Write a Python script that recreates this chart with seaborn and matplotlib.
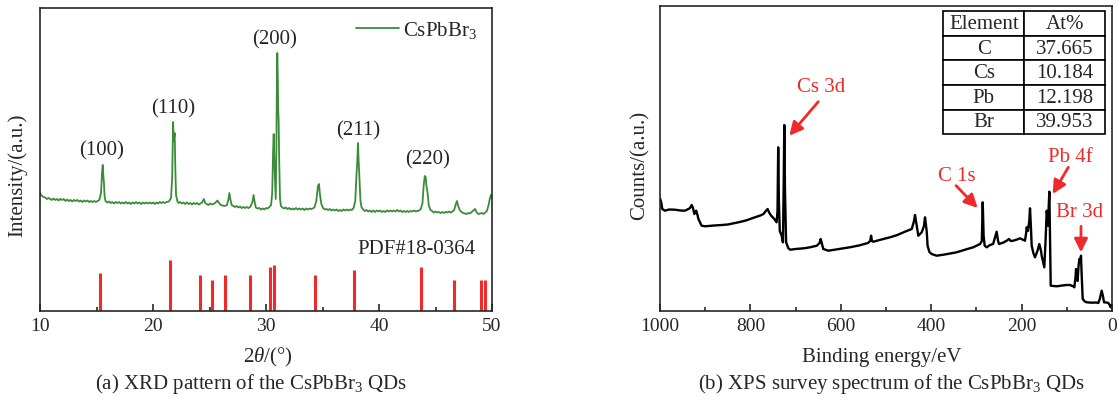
import numpy as np
import pandas as pd
import matplotlib
matplotlib.use("Agg")
import matplotlib.pyplot as plt
import seaborn as sns

# ---------------- XRD data (2theta, intensity a.u.) ----------------
xrd_2theta = [
    10.00, 10.10, 10.20, 10.30, 10.45, 10.60, 10.75, 10.90, 11.05, 11.20, 11.35, 11.50, 11.65, 11.80, 11.95,
    12.10, 12.25, 12.40, 12.55, 12.70, 12.85, 13.00, 13.15, 13.30, 13.45, 13.60, 13.75, 13.90, 14.05, 14.20,
    14.35, 14.50, 14.65, 14.80, 14.95, 15.10, 15.25, 15.40, 15.50, 15.55, 15.60, 15.66, 15.72, 15.80, 15.95,
    16.10, 16.25, 16.40, 16.55, 16.70, 16.85, 17.00, 17.15, 17.30, 17.45, 17.60, 17.75, 17.90, 18.05, 18.20,
    18.35, 18.50, 18.65, 18.80, 18.95, 19.10, 19.25, 19.40, 19.55, 19.70, 19.85, 20.00, 20.15, 20.30, 20.45,
    20.60, 20.75, 20.90, 21.05, 21.20, 21.40, 21.60, 21.70, 21.78, 21.84, 21.92, 21.98, 22.04, 22.15, 22.25,
    22.40, 22.55, 22.70, 22.85, 23.00, 23.15, 23.30, 23.45, 23.60, 23.75, 23.90, 24.05, 24.20, 24.35, 24.50,
    24.62, 24.75, 24.90, 25.05, 25.20, 25.35, 25.50, 25.70, 25.85, 26.00, 26.15, 26.35, 26.55, 26.68, 26.76,
    26.84, 26.96, 27.10, 27.25, 27.40, 27.55, 27.70, 27.85, 28.00, 28.15, 28.30, 28.45, 28.60, 28.80, 28.90,
    28.98, 29.10, 29.25, 29.40, 29.55, 29.70, 29.85, 30.00, 30.15, 30.30, 30.45, 30.55, 30.63, 30.68, 30.74,
    30.80, 30.86, 30.92, 30.97, 31.00, 31.04, 31.08, 31.12, 31.17, 31.24, 31.32, 31.45, 31.60, 31.75, 31.90,
    32.05, 32.20, 32.35, 32.50, 32.65, 32.80, 32.95, 33.10, 33.25, 33.40, 33.55, 33.70, 33.85, 34.00, 34.15,
    34.30, 34.45, 34.60, 34.69, 34.78, 34.90, 35.05, 35.20, 35.35, 35.50, 35.65, 35.80, 35.95, 36.10, 36.25,
    36.40, 36.55, 36.70, 36.85, 37.00, 37.15, 37.30, 37.45, 37.60, 37.75, 37.90, 38.00, 38.08, 38.14, 38.20,
    38.28, 38.36, 38.45, 38.60, 38.75, 38.90, 39.05, 39.20, 39.35, 39.50, 39.65, 39.80, 39.95, 40.10, 40.25,
    40.40, 40.55, 40.70, 40.85, 41.00, 41.15, 41.30, 41.45, 41.60, 41.75, 41.90, 42.05, 42.20, 42.35, 42.50,
    42.65, 42.80, 42.95, 43.10, 43.25, 43.40, 43.55, 43.70, 43.85, 43.95, 44.05, 44.13, 44.20, 44.30, 44.40,
    44.55, 44.70, 44.85, 45.00, 45.15, 45.30, 45.45, 45.60, 45.75, 45.90, 46.05, 46.20, 46.35, 46.50, 46.65,
    46.80, 46.90, 47.00, 47.15, 47.30, 47.45, 47.60, 47.75, 47.90, 48.05, 48.20, 48.35, 48.50, 48.65, 48.80,
    48.95, 49.10, 49.25, 49.40, 49.55, 49.70, 49.80, 49.90, 50.00]
xrd_intensity = [
    118, 116, 115, 114, 113.5, 112, 113, 112, 111, 112.5, 111, 112, 110.5, 112, 111,
    112, 110, 111.5, 110, 111, 109.5, 111, 110, 111, 109.5, 110.5, 109, 110.5, 109.5, 110.5,
    109, 110, 109, 110, 109, 110, 111, 118, 140, 146, 136, 128, 114, 110, 108.5,
    109.5, 108, 109, 107.5, 109, 108, 109, 107.5, 108.5, 107.5, 109, 107.5, 108.5, 107, 108.5,
    107.5, 109, 107.5, 108.5, 107, 108.5, 107.5, 108.5, 107.5, 108.5, 107.5, 108.5, 107, 108.5, 107.5,
    109, 108, 109, 108, 109, 109.5, 113, 135, 189, 170, 178, 140, 116, 110, 108,
    109, 107.5, 108.5, 107, 108.5, 107, 108, 106.5, 108, 107, 108, 106.5, 107.5, 108.5, 112,
    108, 107, 106, 107.5, 106.5, 107, 108, 110.5, 108, 106, 105.5, 105, 106, 112, 118,
    112, 106, 105, 104, 105, 103.5, 104.5, 103, 104, 103, 104, 103, 104, 109, 116,
    110, 103.5, 102.5, 103, 101.5, 102.5, 101.5, 103, 102.5, 104, 106, 118, 160, 177, 150,
    130, 112, 160, 240, 258, 235, 202, 190, 150, 112, 105, 103.5, 102.5, 103.5, 102,
    103, 101.5, 102.5, 101.5, 103, 101.5, 102.5, 101.5, 102.5, 101, 102.5, 101.5, 102.5, 102, 102.5,
    104, 110, 125, 127, 116, 107, 103, 101.5, 102, 101, 102, 100.5, 101.5, 100.5, 101.5,
    100, 101, 100, 101.5, 100.5, 101.5, 100.5, 101.5, 101, 103, 110, 135, 150, 168, 150,
    130, 110, 104, 101.5, 100, 101, 99.5, 100.5, 99, 100.5, 99, 100.5, 99.5, 100.5, 99,
    100, 99, 100.5, 99.5, 100.5, 99.5, 100.5, 99.5, 101, 99.5, 100.5, 99, 100, 99, 100,
    99, 100, 99.5, 100.5, 99.5, 100, 100.5, 102, 108, 125, 135, 134, 125, 118, 106,
    101, 100, 98.5, 99.5, 98.5, 99, 98, 99, 98, 99, 98.5, 99.5, 98.5, 99.5, 101,
    107, 110, 105, 101, 99, 98, 97.5, 97, 98, 97.5, 99, 100.5, 102, 98.5, 97,
    97.5, 98, 97, 98.5, 100, 106, 112, 116, 113]

# reference pattern PDF#18-0364
pdf_2theta = [15.31, 21.53, 24.19, 25.19, 26.34, 28.60, 30.38, 30.74, 34.31, 37.76, 43.69, 46.61, 49.00, 49.38]
pdf_height = [38, 51, 36, 31, 36, 36, 43.7, 46, 36, 41, 43.7, 31, 31, 31]

peak_labels = ["(100)", "(110)", "(200)", "(211)", "(220)"]
peak_label_x = [15.47, 21.80, 30.77, 38.17, 44.32]
peak_label_y = [161, 203, 272, 181, 152]

# ---------------- XPS data (binding energy eV, counts a.u.) ----------------
xps_energy = [
    1000, 997, 995, 989, 980, 967, 955, 945, 934, 930, 927, 924, 920, 917, 915, 908, 900, 880, 863, 850,
    840, 826.6, 810, 790, 778, 771, 766, 762, 758, 754, 747, 742, 740, 738.5, 737, 735, 731, 728, 726.5, 725,
    723.5, 721, 716, 712, 700, 680, 668, 653, 647, 644.5, 641, 638.7, 627.6, 610, 580, 560, 540, 535, 533, 531,
    528, 510, 491, 475, 458, 443, 438, 435.8, 432, 428.5, 421, 416, 413.7, 410, 408, 404, 399, 388, 370, 344,
    320, 307, 292, 288, 286, 284, 281.7, 277, 270, 263, 258, 255.2, 252, 250, 240, 233, 228, 224, 218.4, 210,
    203.5, 196, 192.5, 190, 188.8, 186, 183, 181.4, 179, 177.7, 174, 170.4, 165, 160.8, 157, 155.6, 152, 149.8, 147, 144.5,
    143, 141.6, 140, 138.6, 137, 135.6, 130, 122.3, 110, 100, 92.9, 85, 83.3, 80.5, 79.6, 78, 76.1, 74, 72.3, 70,
    68.6, 67, 64.8, 60, 56, 45, 35, 30.3, 27, 22.9, 20, 17.7, 12, 8.2, 5, 2.9, 1, 0]
xps_counts = [
    112.7, 108, 102, 100.3, 101.5, 101.3, 100.5, 100.3, 102.7, 106, 103, 97, 100.3, 96, 92, 85.3, 84.7, 85.5, 86, 86.5,
    87.5, 88.7, 90.5, 93.7, 95.5, 97, 100, 102, 98, 95.3, 92, 88.7, 100, 163.7, 110, 80, 75.3, 68.7, 120, 186,
    120, 68.7, 62.7, 61.3, 62, 62.8, 63.7, 65.3, 68, 72, 66, 62, 60.3, 61.5, 63.7, 65.5, 68, 70, 75.3, 70,
    69.3, 71.5, 73.7, 76, 79.3, 82, 90, 96, 85, 75.3, 78.7, 85, 93.7, 80, 65.3, 59, 57, 55.3, 56.5, 58.7,
    62, 63.7, 67, 70, 108.7, 75, 65.3, 63.7, 66, 67, 75, 79.3, 70, 67, 68.5, 70.3, 72, 70, 70.3, 71.5,
    72.7, 71, 70.3, 78, 83.7, 80, 90, 102.7, 80, 65.3, 58, 53.7, 60, 67, 60, 55.3, 48, 43.7, 70, 100.3,
    95, 85.3, 105, 119.3, 70, 25.3, 25, 24.7, 25.5, 26, 26, 24.5, 23.7, 35, 42, 38, 30, 45, 52, 50,
    55.3, 35, 12, 9.5, 8.7, 8.3, 8.5, 8, 12, 20.3, 15, 8.7, 8.5, 8, 6, 3.7, 6, 5]

table_header = ["Element", "At%"]
table_elements = ["C", "Cs", "Pb", "Br"]
table_at = ["37.665", "10.184", "12.198", "39.953"]

xps_labels = ["Cs 3d", "C 1s", "Pb 4f", "Br 3d"]
xps_label_x = [644.5, 342.5, 92.2, 70.8]
xps_label_y = [224, 135.8, 154.8, 99.2]
xps_arrow_tail_x = [649.8, 345, 96.7, 68.6]
xps_arrow_tail_y = [209.3, 125.3, 143.7, 84.7]
xps_arrow_head_x = [714, 297.2, 131.2, 68.6]
xps_arrow_head_y = [175.3, 103, 117, 58.7]

# ---------------- style ----------------
sns.set_style("ticks")
plt.rcParams["font.family"] = ["Liberation Serif", "DejaVu Serif"]
plt.rcParams["mathtext.fontset"] = "custom"
plt.rcParams["mathtext.rm"] = "Liberation Serif"
plt.rcParams["mathtext.it"] = "Liberation Serif:italic"
plt.rcParams["axes.linewidth"] = 1.2

FS = 15
TFS = 14
green = "#3a8c3a"
red = "#f02a2a"

fig = plt.figure(figsize=(11.19, 4.02), dpi=100)
W, H = 1119, 402
ax1 = fig.add_axes([40 / W, (H - 312) / H, 452 / W, 303 / H])
ax2 = fig.add_axes([660 / W, (H - 312) / H, 452 / W, 305 / H])

# ---- XRD panel ----
df_xrd = pd.DataFrame({"2theta": xrd_2theta, "I": xrd_intensity})
sns.lineplot(data=df_xrd, x="2theta", y="I", ax=ax1, color=green, lw=1.3,
             estimator=None, label="CsPbBr$_3$")
ax1.vlines(pdf_2theta, 0, pdf_height, colors=red, lw=2.2)
for t, x, y in zip(peak_labels, peak_label_x, peak_label_y):
    ax1.text(x, y, t, ha="center", va="center", fontsize=FS)
ax1.text(48.5, 62, "PDF#18-0364", ha="right", va="center", fontsize=FS)
ax1.set_xlim(10, 50)
ax1.set_ylim(0, 303)
ax1.set_xticks([10, 20, 30, 40, 50])
ax1.set_xticks([15, 25, 35, 45], minor=True)
ax1.set_yticks([])
ax1.tick_params(axis="x", which="major", direction="in", length=5, width=1.2, labelsize=TFS, pad=4)
ax1.tick_params(axis="x", which="minor", direction="in", length=3, width=1.2)
ax1.set_xlabel(r"2$\it{\theta}$/(°)", fontsize=FS)
ax1.set_ylabel("Intensity/(a.u.)", fontsize=FS)
ax1.xaxis.set_label_coords(0.504, -0.15)
ax1.xaxis.label.set_va("center")
ax1.yaxis.set_label_coords(-0.049, 0.45)
ax1.yaxis.label.set_va("center")
leg = ax1.legend(loc="upper right", frameon=False, fontsize=FS, handlelength=2.1,
                 handletextpad=0.2, borderaxespad=0.15, bbox_to_anchor=(0.993, 1.0))

# ---- XPS panel ----
df_xps = pd.DataFrame({"E": xps_energy, "C": xps_counts})
sns.lineplot(data=df_xps, x="E", y="C", ax=ax2, color="black", lw=1.7, estimator=None)
ax2.set_xlim(1000, 0)
ax2.set_ylim(0, 305)
ax2.set_xticks([1000, 800, 600, 400, 200, 0])
ax2.set_xticks([900, 700, 500, 300, 100], minor=True)
ax2.set_yticks([])
ax2.tick_params(axis="x", which="major", direction="in", length=5, width=1.2, labelsize=TFS, pad=4)
ax2.tick_params(axis="x", which="minor", direction="in", length=3, width=1.2)
ax2.set_xlabel("Binding energy/eV", fontsize=FS)
ax2.set_ylabel("Counts/(a.u.)", fontsize=FS)
ax2.xaxis.set_label_coords(0.49, -0.148)
ax2.xaxis.label.set_va("center")
ax2.yaxis.set_label_coords(-0.044, 0.479)
ax2.yaxis.label.set_va("center")

for t, x, y, tx, ty, hx, hy in zip(xps_labels, xps_label_x, xps_label_y,
                                   xps_arrow_tail_x, xps_arrow_tail_y,
                                   xps_arrow_head_x, xps_arrow_head_y):
    ax2.text(x, y, t, ha="center", va="center", fontsize=FS, color=red)
    ax2.annotate("", xy=(hx, hy), xytext=(tx, ty),
                 arrowprops=dict(arrowstyle="-|>", color=red, lw=2, mutation_scale=20,
                                 shrinkA=0, shrinkB=0))

cell_text = [[e, a] for e, a in zip(table_elements, table_at)]
tbl = ax2.table(cellText=cell_text, colLabels=table_header, cellLoc="center",
                bbox=[0.627, 0.580, 0.3575, 0.4026])
tbl.auto_set_font_size(False)
tbl.set_fontsize(FS)
for cell in tbl.get_celld().values():
    cell.set_linewidth(1.2)
    cell.set_edgecolor("black")
    cell.set_facecolor("white")

# ---- captions ----
fig.text(251 / W, 0.045, "(a) XRD pattern of the CsPbBr$_3$ QDs", ha="center", va="center", fontsize=FS)
fig.text(891 / W, 0.045, "(b) XPS survey spectrum of the CsPbBr$_3$ QDs", ha="center", va="center", fontsize=FS)

fig.savefig("out.png", dpi=100)
